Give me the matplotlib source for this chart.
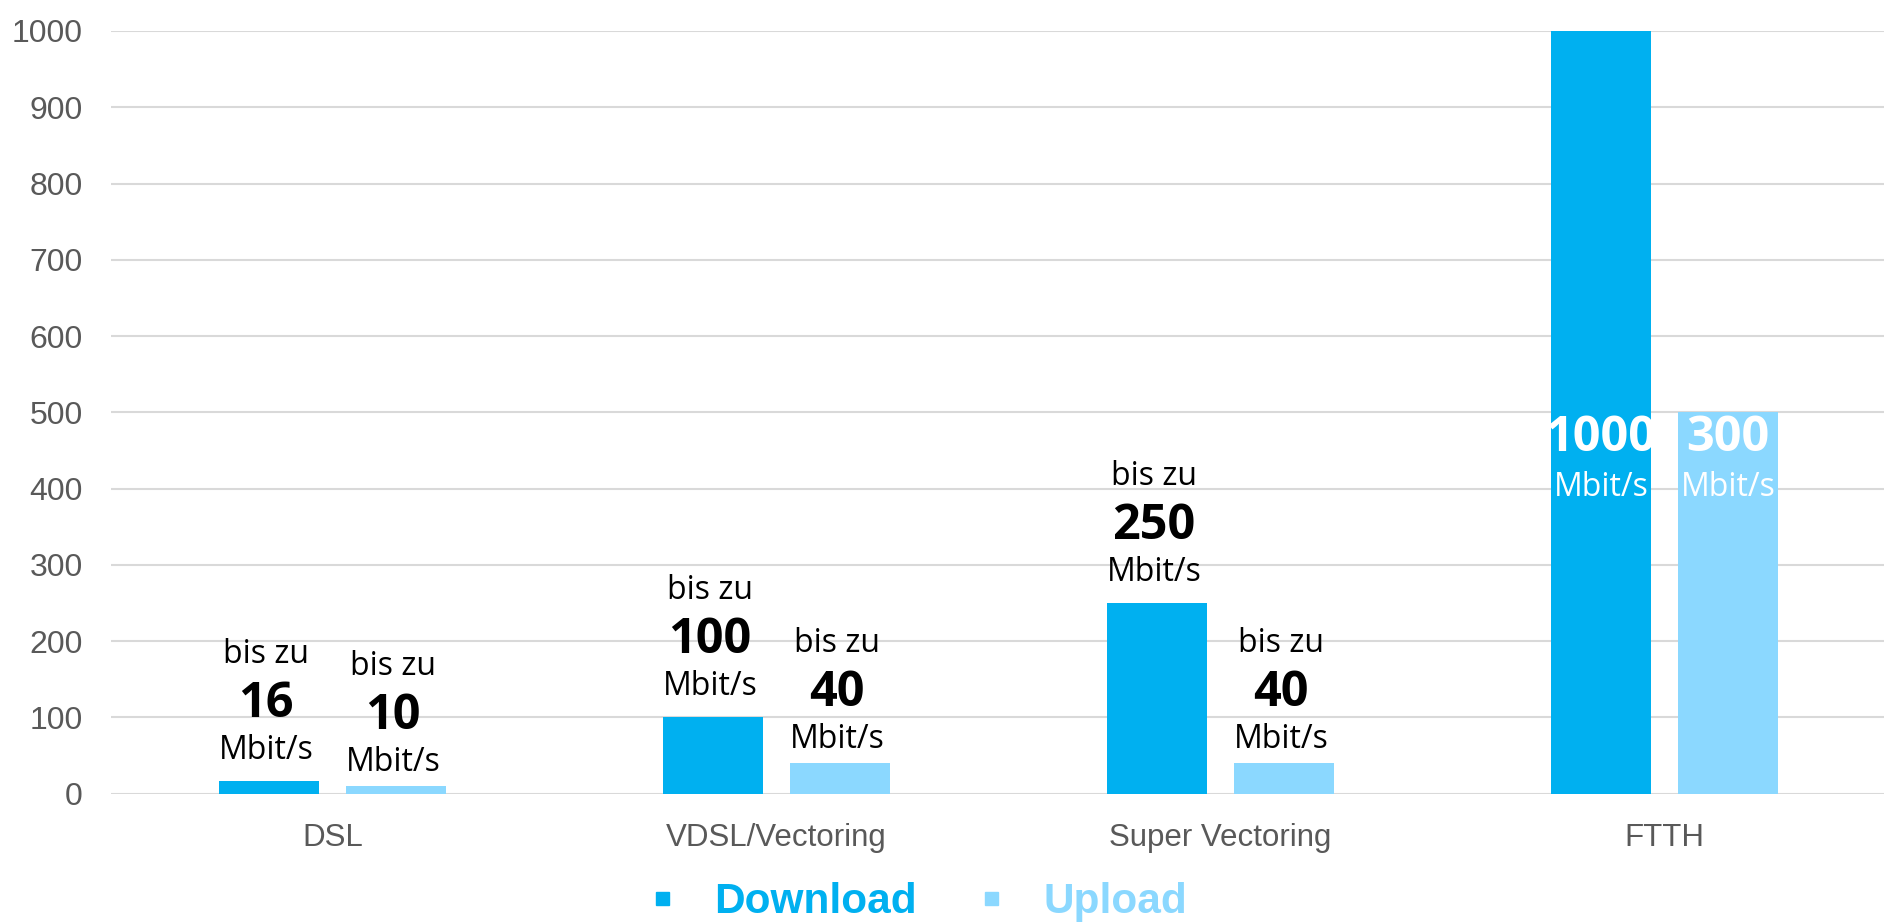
import matplotlib
matplotlib.use("Agg")
import matplotlib.pyplot as plt
from matplotlib.patches import Rectangle
import numpy as np

categories = ["DSL", "VDSL/Vectoring", "Super Vectoring", "FTTH"]
download = [16, 100, 250, 1000]
upload = [10, 40, 40, 500]
download_labels = ["16", "100", "250", "1000"]
upload_labels = ["10", "40", "40", "300"]
inside = [False, False, False, True]
yticks = [0, 100, 200, 300, 400, 500, 600, 700, 800, 900, 1000]
series_names = ["Download", "Upload"]

C_DOWN = "#00B0F0"
C_UP = "#8BD8FF"
GRID = "#D9D9D9"
TICK = "#595959"

W, H = 1884, 922
fig = plt.figure(figsize=(W / 100, H / 100), dpi=100)
ax = fig.add_axes([110.5 / W, 128.5 / H, 1776 / W, 762.5 / H])

x = np.arange(len(categories))
bw = 100 / 444
off = 63.5 / 444
ax.bar(x - off, download, bw, color=C_DOWN, zorder=2)
ax.bar(x + off, upload, bw, color=C_UP, zorder=2)

ax.set_xlim(-0.5, len(categories) - 0.5)
ax.set_ylim(0, 1000)
ax.set_yticks(yticks)
ax.set_yticklabels([str(v) for v in yticks], fontsize=23, color=TICK,
                   family="Liberation Sans")
ax.set_xticks(x)
ax.set_xticklabels(categories, fontsize=22.5, color=TICK, family="Liberation Sans")
ax.tick_params(axis="y", length=0, pad=20)
ax.tick_params(axis="x", length=0, pad=21)
for s in ax.spines.values():
    s.set_visible(False)
ax.yaxis.grid(True, color=GRID, linewidth=1.5, zorder=0)
ax.set_axisbelow(True)

AF = "Open Sans"
DX = -3  # small horizontal nudge of the label stacks, in pixels

def stack(xc, top, num, base_off):
    # label stack above bar: "bis zu" / number / "Mbit/s"
    ax.annotate("Mbit/s", (xc, top), xytext=(DX, base_off), textcoords="offset pixels",
                ha="center", va="baseline", fontsize=23, family=AF, color="black")
    ax.annotate(num, (xc, top), xytext=(DX, base_off + 42), textcoords="offset pixels",
                ha="center", va="baseline", fontsize=35, family=AF, fontweight="bold",
                color="black")
    ax.annotate("bis zu", (xc, top), xytext=(DX, base_off + 96), textcoords="offset pixels",
                ha="center", va="baseline", fontsize=23, family=AF, color="black")

def inner(xc, level, num):
    ax.annotate(num, (xc, level), xytext=(0, -39), textcoords="offset pixels",
                ha="center", va="baseline", fontsize=35, family=AF, fontweight="bold",
                color="white", zorder=5)
    ax.annotate("Mbit/s", (xc, level), xytext=(0, -84), textcoords="offset pixels",
                ha="center", va="baseline", fontsize=23, family=AF, color="white",
                zorder=5)

for i in range(len(categories)):
    if inside[i]:
        lvl = min(download[i], upload[i])
        inner(x[i] - off, lvl, download_labels[i])
        inner(x[i] + off, lvl, upload_labels[i])
    else:
        stack(x[i] - off, download[i], download_labels[i], 22)
        stack(x[i] + off, upload[i], upload_labels[i], 15)

# legend
def fx(px):
    return px / W

def fy(py):
    return 1 - py / H

for name, col, mx, tx in [(series_names[0], C_DOWN, 656, 714),
                          (series_names[1], C_UP, 985, 1043)]:
    fig.patches.append(Rectangle((fx(mx), fy(905)), 13 / W, 13 / H,
                                 transform=fig.transFigure, color=col))
    fig.text(fx(tx), fy(913), name, color=col, fontsize=30.5, fontweight="bold",
             family="Liberation Sans", ha="left", va="baseline")

fig.savefig("out.png", dpi=100, facecolor="white")
